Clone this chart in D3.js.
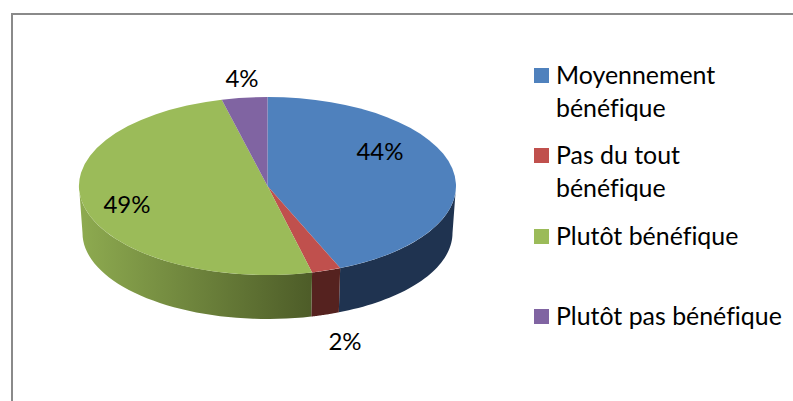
<!DOCTYPE html>
<html>
<head>
<meta charset="utf-8">
<script src="https://d3js.org/d3.v7.min.js"></script>
<style>
  html, body { margin: 0; padding: 0; background: #fff; overflow: hidden; }
  text { font-family: Lato, "Open Sans", sans-serif; fill: #000; font-variant-ligatures: none; }
</style>
</head>
<body>
<svg id="chart" width="793" height="401"></svg>
<script>
const categories = ["Moyennement bénéfique", "Pas du tout bénéfique", "Plutôt bénéfique", "Plutôt pas bénéfique"];
const legendLines = [["Moyennement", "bénéfique"], ["Pas du tout", "bénéfique"], ["Plutôt bénéfique"], ["Plutôt pas bénéfique"]];
// slice sizes as measured on the drawing, the labels are the rounded ones printed on it
const shares = [43.7, 2.5, 49.9, 3.9];
const percentLabels = ["44%", "2%", "49%", "4%"];
const topColors = ["#4f81bd", "#c0504d", "#9bbb59", "#8064a2"];
const sideColors = ["#1f3350", "#55221f", "url(#greenSide)", "#4c3b61"];

const labelFontSize = 24;
const legendFontSize = 24.9;
const top3d = { cx: 267.5, cy: 186, rx: 188.5, ry: 89 };
const bottom3d = { cx: 267.5, cy: 233, rx: 185, ry: 86 };
const labelSpots = [[380, 160], [345, 350], [127, 213], [242, 87]];
const legendX = 534, legendTextX = 556, swatch = 15;
const legendTops = [68, 148, 229, 309];
const lineGap = 33;

const svg = d3.select("#chart");

// grey frame, open on the right and bottom as the picture is cropped there
svg.append("path")
  .attr("d", "M12,401V14H793")
  .attr("fill", "none")
  .attr("stroke", "#8a8a8a")
  .attr("stroke-width", 2);

const grad = svg.append("defs").append("linearGradient")
  .attr("id", "greenSide")
  .attr("gradientUnits", "userSpaceOnUse")
  .attr("x1", top3d.cx - top3d.rx).attr("x2", 312)
  .attr("y1", 0).attr("y2", 0);
grad.append("stop").attr("offset", "0%").attr("stop-color", "#8eab50");
grad.append("stop").attr("offset", "100%").attr("stop-color", "#4d5c28");

const slices = d3.pie().sort(null).value(d => d)(shares);

// side walls, only the part facing the viewer
const onEllipse = (e, a) => [e.cx + e.rx * Math.sin(a), e.cy - e.ry * Math.cos(a)];
const line = d3.line();

svg.append("g")
  .selectAll("path")
  .data(slices.filter(s => s.endAngle > Math.PI / 2 && s.startAngle < Math.PI * 1.5))
  .join("path")
  .attr("fill", d => sideColors[d.index])
  .attr("d", d => {
    const from = Math.max(d.startAngle, Math.PI / 2);
    const to = Math.min(d.endAngle, Math.PI * 1.5);
    const steps = d3.range(0, 41).map(i => from + (to - from) * i / 40);
    const pts = steps.map(a => onEllipse(top3d, a))
      .concat(steps.slice().reverse().map(a => onEllipse(bottom3d, a)));
    return line(pts) + "Z";
  });

// top face
const arc = d3.arc().innerRadius(0).outerRadius(top3d.rx);
svg.append("g")
  .attr("transform", `translate(${top3d.cx},${top3d.cy}) scale(1,${top3d.ry / top3d.rx})`)
  .selectAll("path")
  .data(slices)
  .join("path")
  .attr("fill", d => topColors[d.index])
  .attr("d", arc);

// percent labels
svg.append("g")
  .selectAll("text")
  .data(percentLabels)
  .join("text")
  .attr("x", (d, i) => labelSpots[i][0])
  .attr("y", (d, i) => labelSpots[i][1])
  .attr("text-anchor", "middle")
  .attr("font-size", labelFontSize)
  .text(d => d);

// legend
const legend = svg.append("g")
  .selectAll("g")
  .data(categories)
  .join("g");

legend.append("rect")
  .attr("x", legendX)
  .attr("y", (d, i) => legendTops[i])
  .attr("width", swatch)
  .attr("height", swatch)
  .attr("fill", (d, i) => topColors[i]);

legend.append("text")
  .attr("font-size", legendFontSize)
  .selectAll("tspan")
  .data((d, i) => legendLines[i].map((t, j) => ({ t, y: legendTops[i] + 15.5 + j * lineGap })))
  .join("tspan")
  .attr("x", legendTextX)
  .attr("y", d => d.y)
  .text(d => d.t);
</script>
</body>
</html>
